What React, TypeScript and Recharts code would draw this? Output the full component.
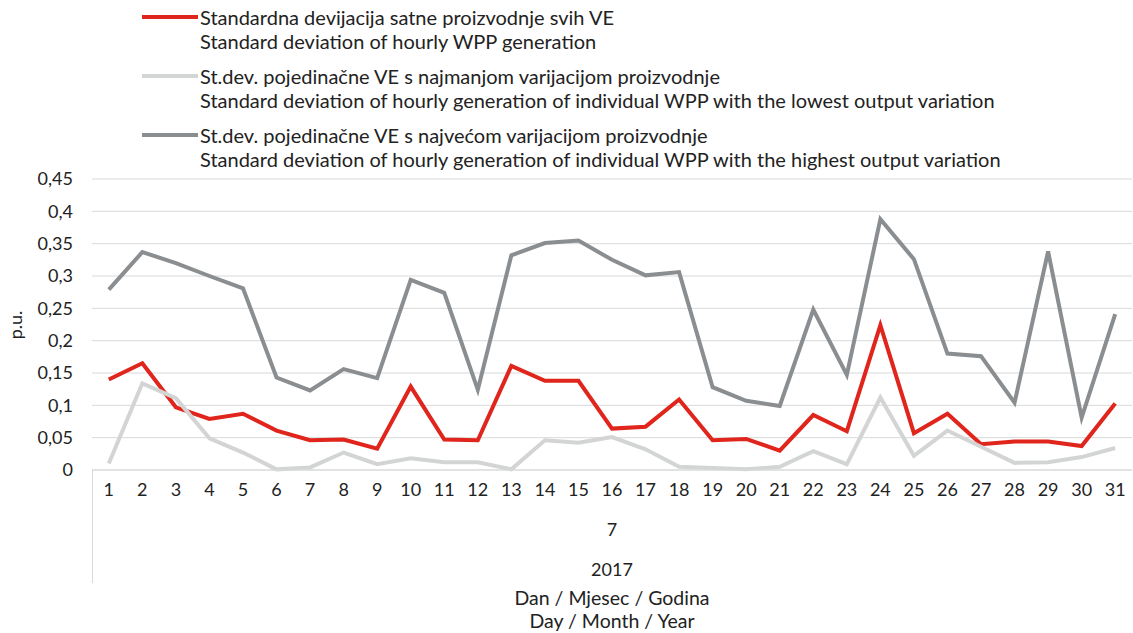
import { CartesianGrid, Line, LineChart, XAxis, YAxis } from 'recharts';

const days = Array.from({ length: 31 }, (_, i) => String(i + 1));

const allWpp = [
  0.14, 0.165, 0.097, 0.079, 0.087, 0.061, 0.046, 0.047, 0.033, 0.129, 0.047, 0.046, 0.161, 0.138, 0.138, 0.064,
  0.067, 0.109, 0.046, 0.048, 0.03, 0.085, 0.06, 0.224, 0.057, 0.087, 0.04, 0.044, 0.044, 0.037, 0.103,
];

const lowestWpp = [
  0.01, 0.134, 0.111, 0.049, 0.027, 0.001, 0.004, 0.027, 0.009, 0.018, 0.012, 0.012, 0.001, 0.046, 0.042, 0.051,
  0.032, 0.005, 0.003, 0.001, 0.005, 0.029, 0.009, 0.112, 0.022, 0.061, 0.036, 0.011, 0.012, 0.02, 0.034,
];

const highestWpp = [
  0.279, 0.337, 0.32, 0.3, 0.281, 0.143, 0.123, 0.156, 0.142, 0.294, 0.274, 0.124, 0.332, 0.351, 0.355, 0.325,
  0.301, 0.306, 0.128, 0.107, 0.099, 0.248, 0.147, 0.388, 0.326, 0.18, 0.176, 0.104, 0.338, 0.081, 0.241,
];

const yTicks = [0, 0.05, 0.1, 0.15, 0.2, 0.25, 0.3, 0.35, 0.4, 0.45];
const yTickLabels = ['0', '0,05', '0,1', '0,15', '0,2', '0,25', '0,3', '0,35', '0,4', '0,45'];

const series = [
  {
    key: 'all',
    color: '#e0251c',
    hr: 'Standardna devijacija satne proizvodnje svih VE',
    en: 'Standard deviation of hourly WPP generation',
  },
  {
    key: 'lowest',
    color: '#d3d5d5',
    hr: 'St.dev. pojedinačne VE s najmanjom varijacijom proizvodnje',
    en: 'Standard deviation of hourly generation of individual WPP with the lowest output variation',
  },
  {
    key: 'highest',
    color: '#8b8e91',
    hr: 'St.dev. pojedinačne VE s najvećom varijacijom proizvodnje',
    en: 'Standard deviation of hourly generation of individual WPP with the highest output variation',
  },
];

const data = days.map((day, i) => ({ day, all: allWpp[i], lowest: lowestWpp[i], highest: highestWpp[i] }));

const font = 'Lato, "Open Sans", sans-serif';
const textColor = '#222';

export default function App() {
  return (
    <div style={{ position: 'absolute', left: 0, top: 0, width: 1133, height: 633, background: '#fff', fontFamily: font, color: textColor }}>
      <LineChart width={1133} height={633} data={data} margin={{ top: 179, right: 1, left: 0, bottom: 0 }}>
        <CartesianGrid vertical={false} stroke="#d9d9d9" />
        <XAxis
          dataKey="day"
          padding={{ left: 16.8, right: 16.8 }}
          axisLine={{ stroke: '#d9d9d9' }}
          tickLine={false}
          tickSize={0}
          tickMargin={13}
          height={163}
          interval={0}
          tick={{ fontSize: 18, fill: textColor, fontFamily: font }}
        />
        <YAxis
          domain={[0, 0.45]}
          ticks={yTicks}
          width={92}
          axisLine={false}
          tickLine={false}
          tickSize={0}
          tickMargin={19}
          tickFormatter={(v: number) => yTickLabels[yTicks.indexOf(v)] ?? String(v)}
          tick={{ fontSize: 18, fill: textColor, fontFamily: font }}
        />
        {series.map((s) => (
          <Line
            key={s.key}
            type="linear"
            dataKey={s.key}
            stroke={s.color}
            strokeWidth={4}
            dot={false}
            isAnimationActive={false}
          />
        ))}
      </LineChart>

      <div style={{ position: 'absolute', left: 142, top: 5, fontSize: 20 }}>
        {series.map((s, i) => (
          <div key={s.key} style={{ display: 'flex', alignItems: 'flex-start', marginBottom: i < 2 ? 11 : 0 }}>
            <div style={{ width: 56, height: 4, background: s.color, marginTop: 10, marginRight: 2 }} />
            <div style={{ lineHeight: '24px', whiteSpace: 'nowrap' }}>
              <div>{s.hr}</div>
              <div>{s.en}</div>
            </div>
          </div>
        ))}
      </div>

      <div
        style={{
          position: 'absolute',
          left: 15,
          top: 325,
          fontSize: 18,
          transform: 'translate(-50%, -50%) rotate(-90deg)',
          whiteSpace: 'nowrap',
        }}
      >
        p.u.
      </div>

      <div style={{ position: 'absolute', left: 92, top: 470, width: 1, height: 113, background: '#d9d9d9' }} />

      <div style={{ position: 'absolute', left: 92, width: 1040, top: 518, textAlign: 'center', fontSize: 18 }}>7</div>
      <div style={{ position: 'absolute', left: 92, width: 1040, top: 558, textAlign: 'center', fontSize: 18 }}>2017</div>
      <div style={{ position: 'absolute', left: 92, width: 1040, top: 586, textAlign: 'center', fontSize: 19.5, lineHeight: '23px' }}>
        <div>Dan / Mjesec / Godina</div>
        <div>Day / Month / Year</div>
      </div>
    </div>
  );
}
